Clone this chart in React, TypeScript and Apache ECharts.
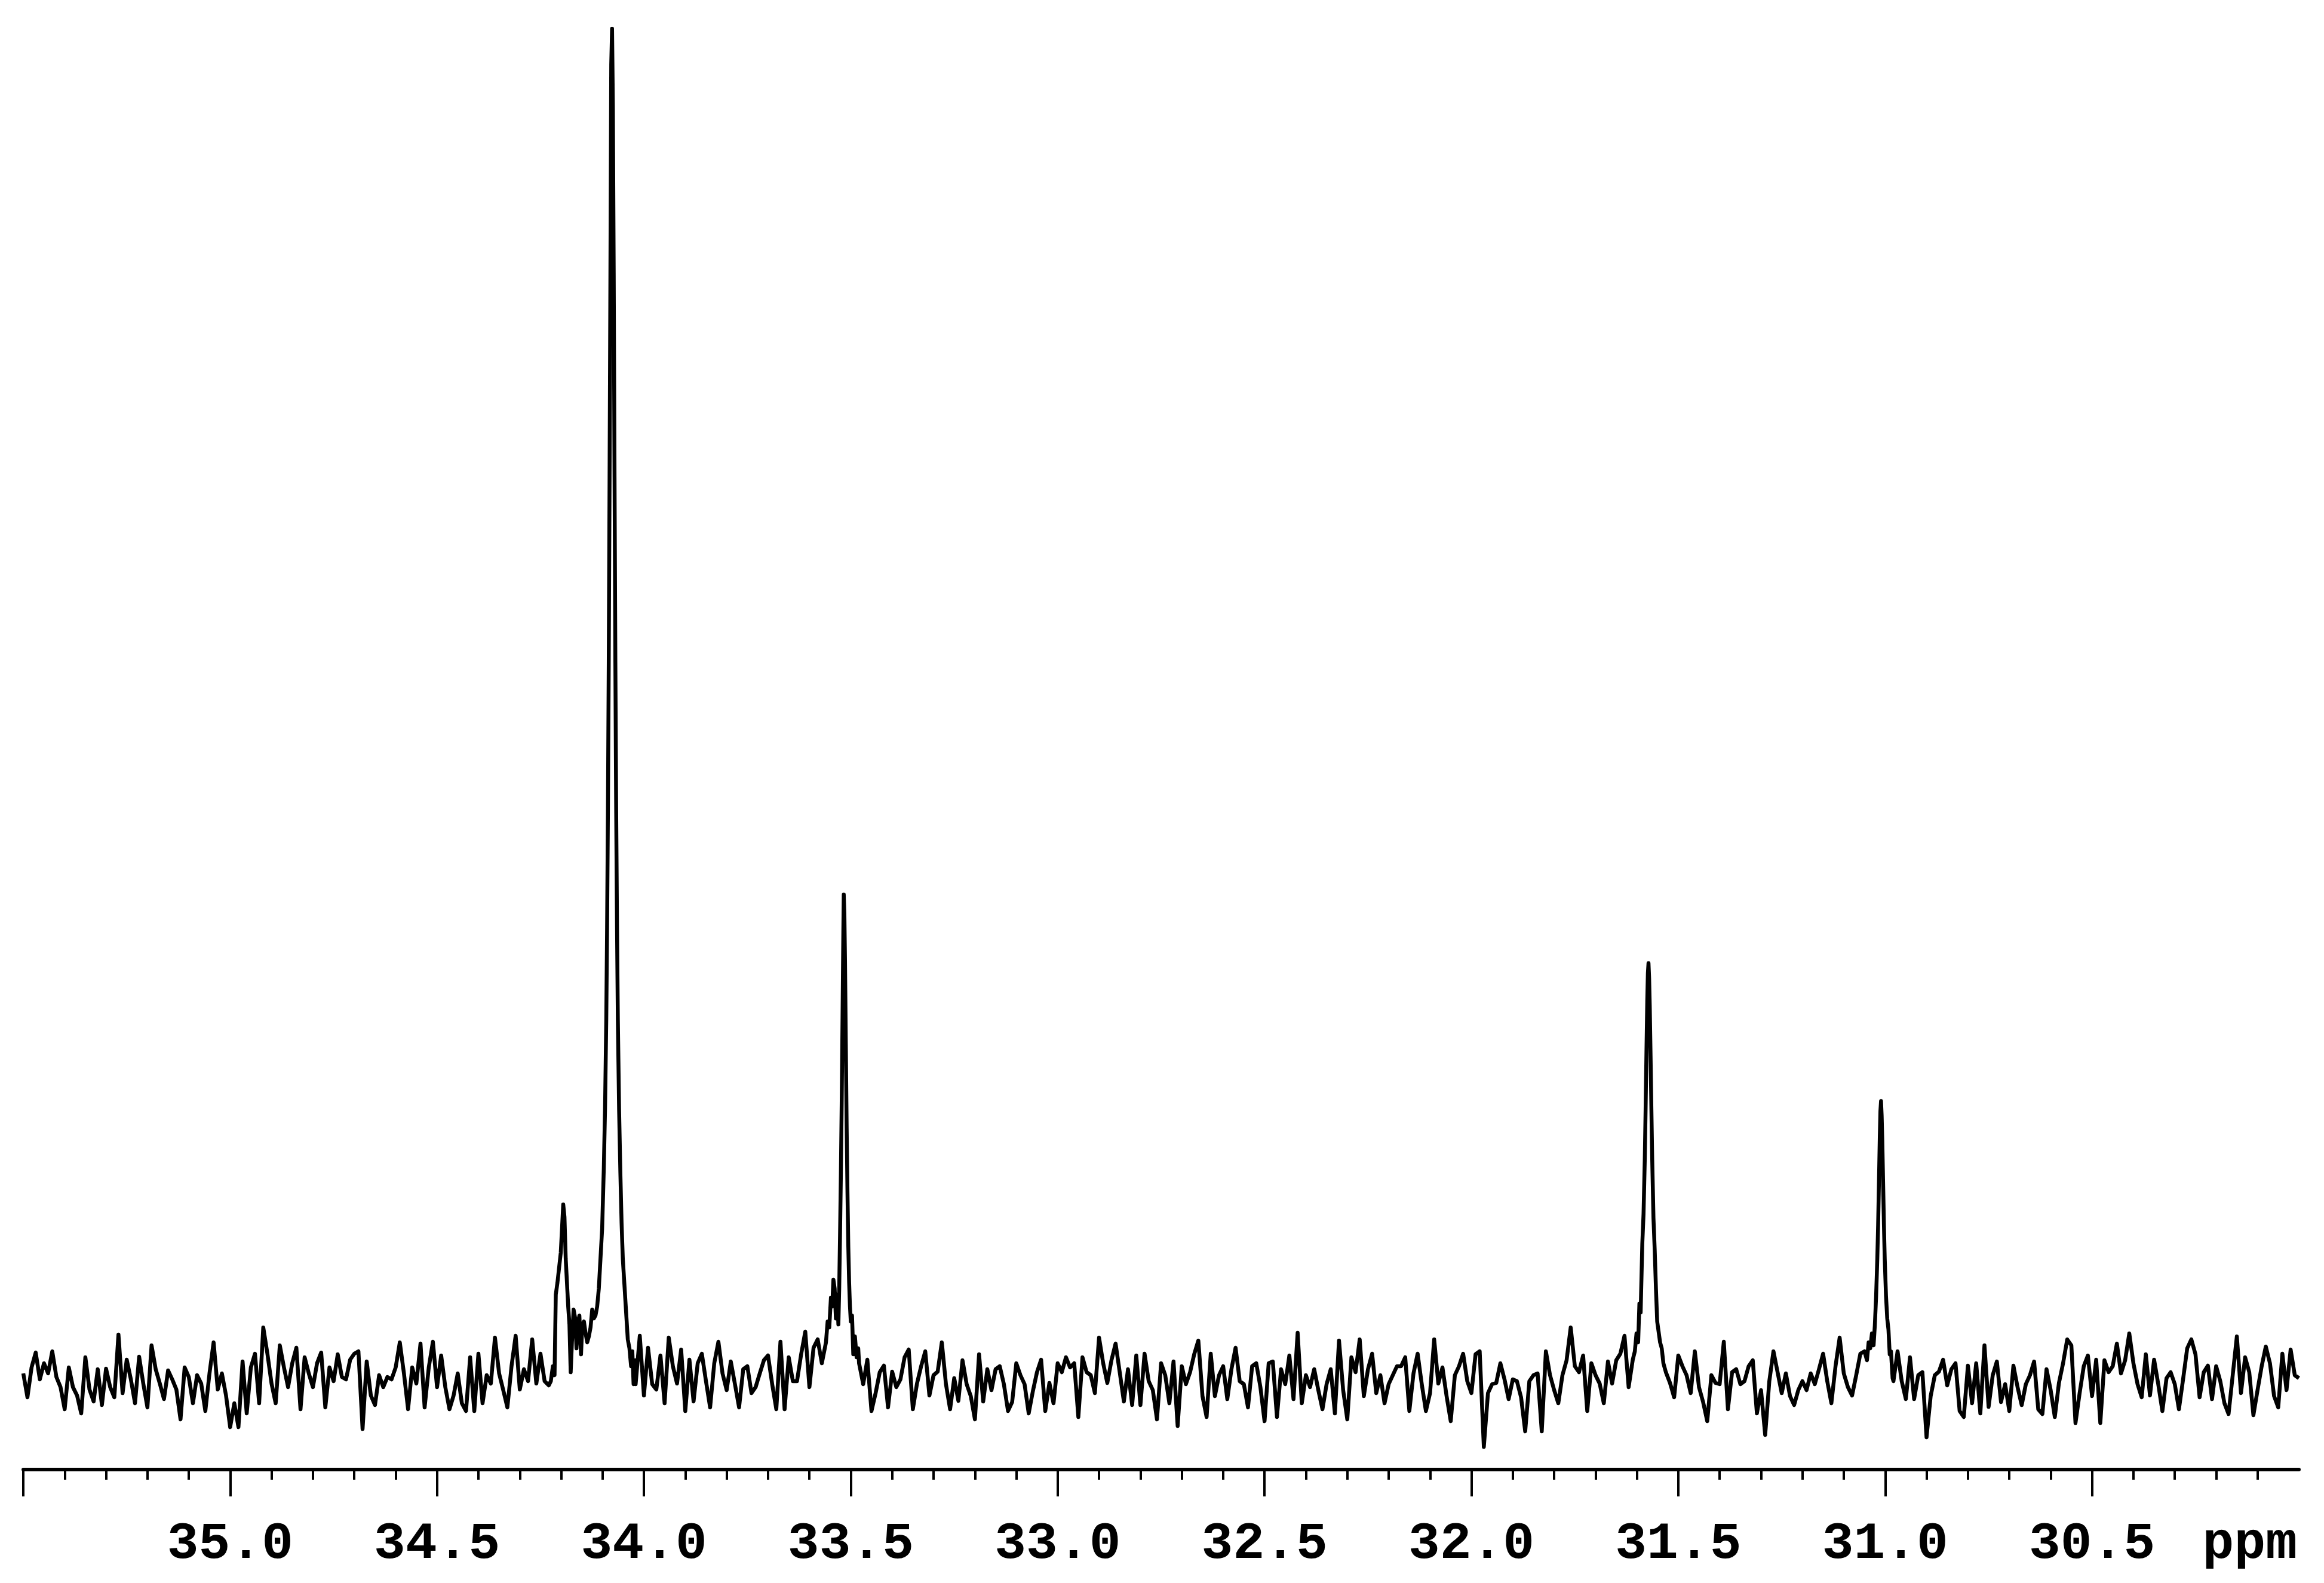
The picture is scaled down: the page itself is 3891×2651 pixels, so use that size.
import React, { useEffect, useRef } from 'react';
import * as echarts from 'echarts';

// Spectrum sampled every 0.01 ppm from 35.50 ppm down to 30.00 ppm (intensity, baseline = 0)
const PPM_START = 35.5;
const PPM_STEP = 0.01;
const coarseTrace: number[] = [
  8, -32, 18, 43, -2, 25, 8, 45, 2, -15,
  -52, 18, -15, -29, -59, 35, -19, -39, 15, -45,
  16, -15, -32, 73, -25, 31, -2, -42, 36, -9,
  -49, 55, 15, -9, -35, 13, -2, -19, -69, 18,
  2, -42, 5, -9, -55, 8, 60, -19, 8, -29,
  -82, -42, -82, 28, -59, 18, 41, -42, 85, 41,
  -9, -42, 55, 18, -15, 25, 51, -52, 35, 8,
  -15, 25, 43, -49, 18, -5, 40, 2, -2, 31,
  41, 45, -85, 28, -29, -45, 5, -15, 2, -2,
  18, 60, 8, -52, 18, -9, 58, -49, 18, 61,
  -15, 38, -15, -52, -29, 8, -42, -55, 35, -55,
  41, -42, 5, -9, 68, 8, -20, -49, 20, 71,
  -19, 15, -5, 65, -9, 41, -5, -12, 20, 160,
  220, 230, 90, 115, 90, 60, 80, 75, 100, 150,
  265, 640, 2150, 1509, 450, 190, 70, 30, -10, 71,
  -29, 51, -10, -19, 38, -42, 68, 20, -9, 48,
  -55, 31, -39, 25, 41, -5, -49, 25, 61, 8,
  -20, 28, -10, -49, 15, 20, -25, -15, 8, 30,
  38, -10, -52, 61, -52, 35, -5, -5, 40, 78,
  -15, 51, 65, 25, 60, 100, 150, 80, 680, 360,
  100, 75, 25, -10, 31, -55, -25, 10, 21, -49,
  11, -15, -2, 35, 48, -52, -9, 20, 45, -29,
  5, 11, 60, -10, -52, 0, -38, 30, -10, -30,
  -69, 40, -39, 15, -20, 15, 20, -10, -55, -40,
  25, 5, -10, -59, -22, 10, 31, -55, -8, -42,
  25, 10, 35, 18, 25, -65, 35, 10, 5, -25,
  68, 25, -8, 30, 58, 10, -39, 15, -45, 38,
  -45, 41, -5, -20, -69, 25, 5, -42, 28, -80,
  20, -10, 10, 40, 63, -30, -65, 41, -30, 5,
  20, -35, 15, 51, -5, -10, -49, 20, 25, -15,
  -72, 25, 28, -65, 15, -10, 38, -35, 76, -42,
  5, -15, 15, -20, -52, -10, 15, -59, 63, -20,
  -69, 35, 10, 65, -30, 15, 41, -25, 5, -42,
  -10, 5, 20, 20, 35, -55, 8, 41, -10, -55,
  -25, 65, -9, 18, -30, -72, 5, 20, 41, -5,
  -25, 40, 45, -115, -25, -10, -8, 25, -2, -35,
  -2, -5, -32, -89, -5, 5, 8, -89, 45, 5,
  -20, -42, 5, 30, 85, 20, 10, 38, -55, 25,
  5, -9, -42, 28, -9, 30, 41, 71, -15, 31,
  75, 150, 400, 660, 268, 90, 50, 10, -8, -32,
  38, 20, 5, -25, 45, -15, -40, -72, 5, -8,
  -10, 61, -52, 10, 15, -10, -5, 20, 30, -59,
  -20, -95, -5, 45, 10, -25, 8, -30, -45, -20,
  -5, -20, 8, -10, 15, 41, -5, -42, 20, 68,
  8, -15, -29, 5, 41, 45, 55, 55, 170, 464,
  230, 81, -5, 45, -5, -35, 35, -35, 5, 10,
  -99, -30, 5, 11, 31, -12, 15, 25, -55, -65,
  21, -42, 25, -59, 55, -48, 5, 28, -40, -10,
  -55, 21, -15, -45, -10, 5, 28, -52, -60, 15,
  -20, -65, -8, 25, 65, 55, -75, -25, 20, 38,
  -30, 31, -75, 30, 10, 20, 58, 8, 30, 75,
  25, -10, -32, 40, -29, 31, -10, -55, 0, 10,
  -10, -52, -2, 50, 65, 40, -32, 10, 21, -35,
  20, -5, -42, -60, 5, 70, -25, 35, 10, -62,
  -20, 20, 53, 25, -30, -49, 41, -20, 48, 5,
  0,
];

// Finer samples across the resonances: [ppm, intensity]
const peak3408Detail: [number, number][] = [
  [34.225, -5], [34.22, 20], [34.216, 5], [34.213, 140], [34.209, 160], [34.205, 185],
  [34.201, 210], [34.198, 250], [34.195, 291], [34.192, 270], [34.189, 200], [34.186, 160],
  [34.183, 120], [34.18, 90], [34.177, 10], [34.174, 60], [34.17, 115], [34.166, 100],
  [34.163, 50], [34.16, 90], [34.156, 105], [34.152, 40], [34.149, 90], [34.145, 95],
  [34.141, 75], [34.137, 60], [34.133, 70], [34.129, 85], [34.125, 115], [34.121, 100],
  [34.117, 105], [34.113, 120], [34.109, 150], [34.105, 200], [34.101, 250], [34.097, 350],
  [34.094, 450], [34.091, 600], [34.089, 755], [34.087, 948], [34.085, 1198], [34.083, 1509],
  [34.081, 1850], [34.079, 2200], [34.077, 2260], [34.075, 2130], [34.073, 1850], [34.071, 1509],
  [34.069, 1198], [34.067, 948], [34.065, 755], [34.063, 600], [34.06, 450], [34.057, 346],
  [34.054, 260], [34.051, 200], [34.047, 155], [34.043, 110], [34.039, 65], [34.035, 50],
  [34.031, 20], [34.028, 45], [34.025, -10], [34.021, 30],
];
const peak3352Detail: [number, number][] = [
  [33.56, 60], [33.556, 95], [33.552, 85], [33.548, 135], [33.545, 120], [33.542, 165],
  [33.539, 150], [33.536, 100], [33.533, 140], [33.53, 90], [33.528, 150], [33.526, 240],
  [33.524, 340], [33.522, 460], [33.52, 600], [33.518, 750], [33.517, 810], [33.5155, 778],
  [33.514, 700], [33.512, 560], [33.51, 420], [33.508, 310], [33.506, 220], [33.504, 160],
  [33.502, 120], [33.5, 95], [33.497, 105], [33.494, 40], [33.49, 70], [33.486, 35], [33.482, 50],
];
const peak3157Detail: [number, number][] = [
  [31.605, 45], [31.601, 75], [31.597, 60], [31.594, 125], [31.591, 110], [31.587, 225],
  [31.584, 275], [31.581, 366], [31.579, 450], [31.577, 544], [31.575, 632], [31.5735, 678],
  [31.572, 695], [31.5705, 670], [31.569, 625], [31.567, 540], [31.565, 450], [31.563, 366],
  [31.56, 268], [31.557, 215], [31.554, 150], [31.551, 95], [31.548, 80], [31.544, 60],
  [31.54, 50], [31.536, 25],
];
const peak3101Detail: [number, number][] = [
  [31.048, 40], [31.044, 30], [31.04, 60], [31.036, 50], [31.032, 75], [31.028, 55],
  [31.025, 88], [31.022, 135], [31.019, 200], [31.017, 257], [31.015, 329], [31.013, 404],
  [31.0115, 447], [31.01, 464], [31.0085, 440], [31.007, 400], [31.005, 329], [31.003, 257],
  [31.001, 199], [30.998, 138], [30.995, 100], [30.992, 81], [30.989, 40], [30.986, 45],
  [30.982, 0],
];

const majorTicks = [35.5, 35.0, 34.5, 34.0, 33.5, 33.0, 32.5, 32.0, 31.5, 31.0, 30.5];
const tickLabels = [35.0, 34.5, 34.0, 33.5, 33.0, 32.5, 32.0, 31.5, 31.0, 30.5];
const axisUnit = 'ppm';

const AXIS_Y = 2461;
const LABEL_MARGIN = 80;
const FONT = 'Liberation Mono';

function buildData(): [number, number][] {
  const details = [peak3408Detail, peak3352Detail, peak3157Detail, peak3101Detail];
  const windows = details.map((d) => {
    const xs = d.map((p) => p[0]);
    return [Math.min(...xs), Math.max(...xs)];
  });
  const coarse: [number, number][] = coarseTrace
    .map((v, i) => [Math.round((PPM_START - i * PPM_STEP) * 1000) / 1000, v] as [number, number])
    .filter(([x]) => !windows.some(([a, b]) => x >= a && x <= b));
  const all = coarse.concat(...details);
  all.sort((a, b) => b[0] - a[0]);
  return all;
}

export default function App() {
  const ref = useRef<HTMLDivElement>(null);
  useEffect(() => {
    if (!ref.current) return;
    const chart = echarts.init(ref.current, null, { renderer: 'svg' });
    const option: any = {
      animation: false,
      backgroundColor: '#ffffff',
      grid: { left: 39, right: 42, top: 48, bottom: 2651 - AXIS_Y, outerBoundsMode: 'none' },
      xAxis: {
        type: 'value',
        inverse: true,
        min: 30,
        max: 35.5,
        interval: 0.5,
        axisLine: { show: true, onZero: false, lineStyle: { color: '#000', width: 6 } },
        axisTick: {
          show: true,
          length: 45,
          customValues: majorTicks,
          lineStyle: { color: '#000', width: 4 },
        },
        minorTick: { show: true, splitNumber: 5, length: 17, lineStyle: { color: '#000', width: 4 } },
        axisLabel: {
          customValues: tickLabels,
          formatter: (v: number) => v.toFixed(1),
          color: '#000',
          fontFamily: FONT,
          fontWeight: 'bold',
          fontSize: 88,
          margin: LABEL_MARGIN,
        },
        splitLine: { show: false },
        minorSplitLine: { show: false },
      },
      yAxis: { type: 'value', min: -(AXIS_Y - 2308), max: 2260, show: false, splitLine: { show: false } },
      graphic: [
        {
          type: 'text',
          right: 45,
          top: AXIS_Y + LABEL_MARGIN,
          style: {
            text: axisUnit,
            fill: '#000',
            font: `bold 88px "${FONT}"`,
          },
        },
      ],
      series: [
        {
          type: 'line',
          data: buildData(),
          showSymbol: false,
          symbol: 'none',
          silent: true,
          lineStyle: { color: '#000', width: 6.5, join: 'round' },
        },
      ],
    };
    chart.setOption(option);
    return () => chart.dispose();
  }, []);
  return (
    <div
      ref={ref}
      style={{ position: 'fixed', left: 0, top: 0, width: 3891, height: 2651, background: '#fff' }}
    />
  );
}
